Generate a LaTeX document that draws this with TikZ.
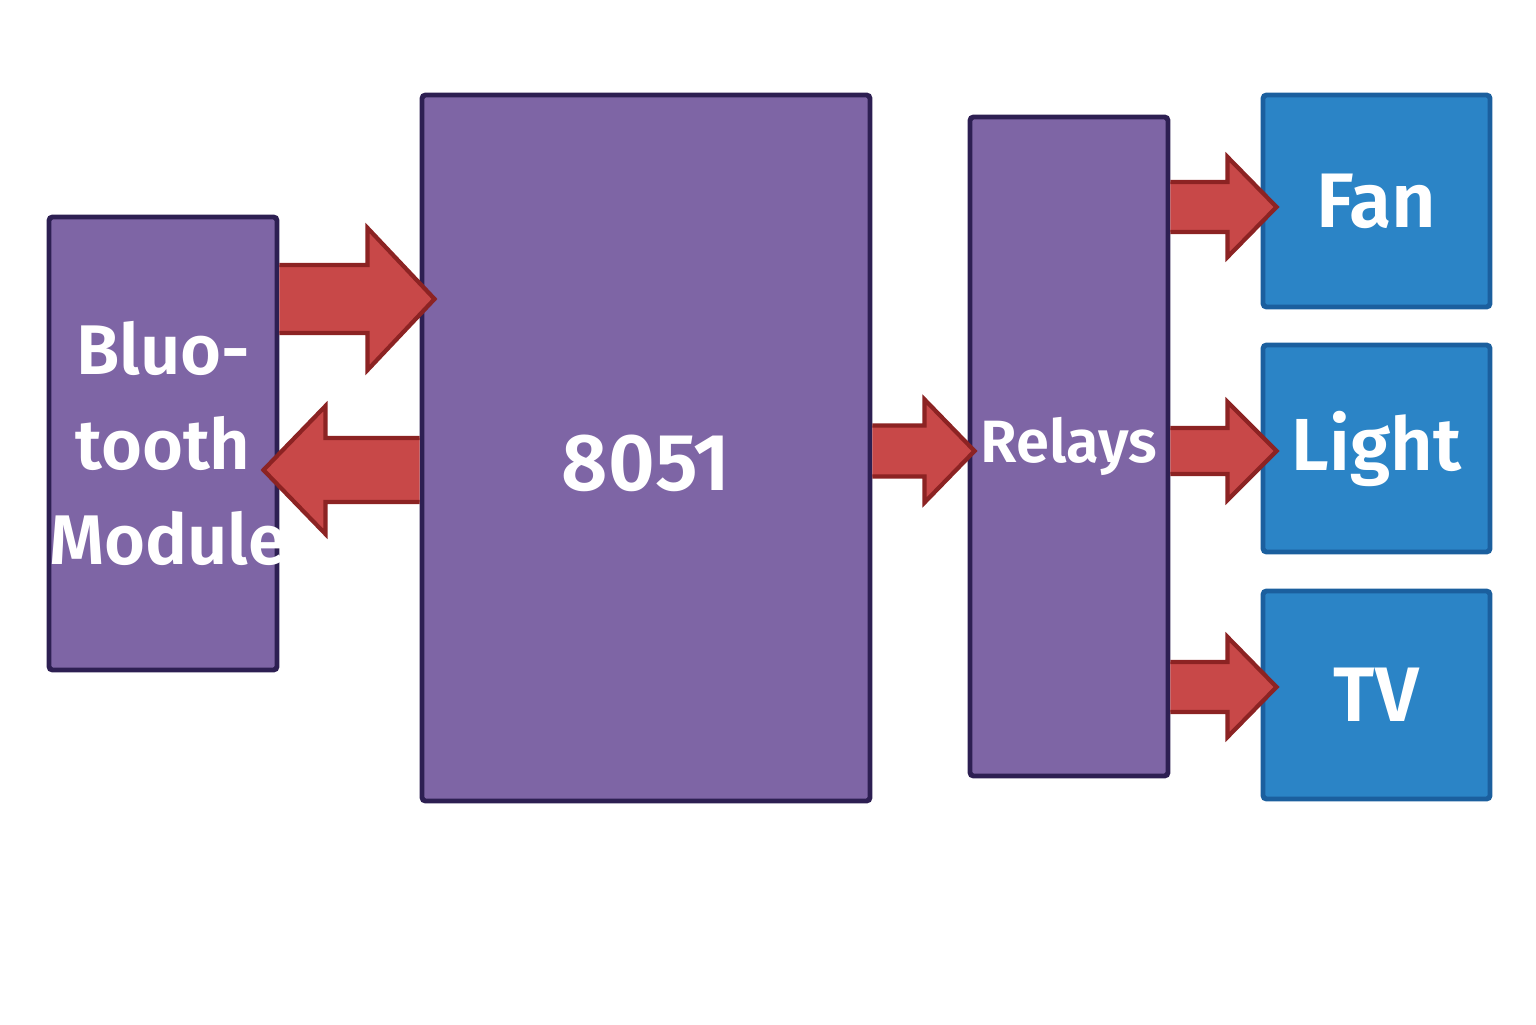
\documentclass[tikz,border=0pt]{standalone}
\usepackage{fontspec}
\setmainfont{Fira Sans}[BoldFont=* SemiBold]
\usetikzlibrary{calc}
\definecolor{boxpurple}{HTML}{7E65A5}
\definecolor{linepurple}{HTML}{2D1F52}
\definecolor{boxblue}{HTML}{2B84C6}
\definecolor{lineblue}{HTML}{1B5F9E}
\definecolor{arrowred}{HTML}{C84848}
\definecolor{linered}{HTML}{8C2323}
\tikzset{
  block/.style={draw=linepurple,fill=boxpurple,line width=1.4pt,rounded corners=1pt,
    text=white,font=\bfseries,align=center,inner sep=0pt},
  device/.style={block,draw=lineblue,fill=boxblue,minimum width=2.27cm,font=\bfseries\fontsize{22}{26}\selectfont},
  redarrow/.style={fill=arrowred,draw=linered,line width=1.2pt,line join=miter}
}
% #1 start, #2 tip, #3 half shaft, #4 half head, #5 head length (negative points left)
\newcommand\blockarrow[5]{%
  \filldraw[redarrow] let \p1=(#1), \p2=(#2) in
    (\x1,{\y1+#3}) -- ({\x2-#5},{\y1+#3}) -- ({\x2-#5},{\y1+#4}) -- (\x2,\y1)
    -- ({\x2-#5},{\y1-#4}) -- ({\x2-#5},{\y1-#3}) -- (\x1,{\y1-#3});}

\begin{document}
\begin{tikzpicture}
     \useasboundingbox (0,0) rectangle (15.36,10.24);
     \node[block,text width=2.28cm,minimum height=4.53cm,font=\bfseries\fontsize{20}{27}\selectfont] (bt) at (1.63,5.805) {Bluo-\\tooth\\Module};
     \node[block,minimum width=4.48cm,minimum height=7.06cm,text height=.84cm,text depth=0pt,font=\bfseries\fontsize{23}{27}\selectfont] (m) at (6.46,5.76) {8051};
     \node[block,minimum width=1.98cm,minimum height=6.59cm,font=\bfseries\fontsize{17}{22}\selectfont] (rel) at (10.69,5.775) {Relays};
     \node[device,minimum height=2.12cm] (fan) at (13.765,8.23) {Fan};
     \node[device,minimum height=2.07cm,font=\bfseries\fontsize{21}{26}\selectfont] (light) at (13.765,5.755) {Light};
     \node[device,minimum height=2.08cm] (tv) at (13.765,3.29) {TV};
     % arrows between the blocks
     \blockarrow{bt.east |- 0,7.25}{$(m.west |- 0,7.25)+(.15,0)$}{.34cm}{.71cm}{.67cm}
     \blockarrow{m.west |- 0,5.54}{$(bt.east |- 0,5.54)+(-.16,0)$}{.32cm}{.64cm}{-.62cm}
     \blockarrow{m.east |- 0,5.73}{$(rel.west |- 0,5.73)+(.07,0)$}{.255cm}{.515cm}{.5cm}
     \blockarrow{rel.east |- 0,8.17}{$(fan.west |- 0,8.17)+(.16,0)$}{.25cm}{.5cm}{.49cm}
     \blockarrow{rel.east |- 0,5.73}{$(light.west |- 0,5.73)+(.16,0)$}{.23cm}{.49cm}{.49cm}
     \blockarrow{rel.east |- 0,3.37}{$(tv.west |- 0,3.37)+(.16,0)$}{.25cm}{.5cm}{.49cm}
\end{tikzpicture}
\end{document}
